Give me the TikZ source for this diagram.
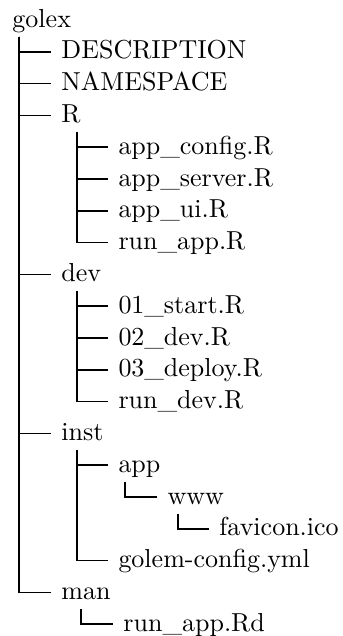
\documentclass[tikz,border=0pt]{standalone}
\usepackage{tikz}
\begin{document}
\begin{tikzpicture}[x=0.4pt,y=-0.4pt]
\tikzstyle{every node}+=[inner sep=0pt,anchor=base west,font=\fontsize{10.4}{12}\selectfont]
\tikzstyle{branch}=[black,line width=0.7pt]
\useasboundingbox (0,0) rectangle (342,636);
\node (golex) at (12,27) {golex};
\node (desc) at (61,58.8) {DESCRIPTION};
\node (ns) at (61,90.6) {NAMESPACE};
\node (R) at (61,122.4) {R};
\node (cfg) at (118,154.2) {app\_config.R};
\node (srv) at (118,186) {app\_server.R};
\node (ui) at (118,217.8) {app\_ui.R};
\node (runR) at (118,249.6) {run\_app.R};
\node (dev) at (61,281.4) {dev};
\node (start) at (118,313.2) {01\_start.R};
\node (devR) at (118,345) {02\_dev.R};
\node (deploy) at (118,376.8) {03\_deploy.R};
\node (rundev) at (118,408.6) {run\_dev.R};
\node (inst) at (61,440.4) {inst};
\node (app) at (118,472.2) {app};
\node (www) at (167,504) {www};
\node (fav) at (219,535.8) {favicon.ico};
\node (golem) at (118,567.6) {golem-config.yml};
\node (man) at (61,599.4) {man};
\node (rd) at (123,631.2) {run\_app.Rd};
\coordinate (golexv) at ([xshift=2.8pt,yshift=-3.8pt]golex.base west);
\coordinate (Rv) at ([xshift=6.4pt,yshift=-3.8pt]R.base west);
\coordinate (devv) at ([xshift=6.4pt,yshift=-3.8pt]dev.base west);
\coordinate (instv) at ([xshift=6.4pt,yshift=-3.8pt]inst.base west);
\coordinate (appv) at ([xshift=2.8pt,yshift=-3.8pt]app.base west);
\coordinate (wwwv) at ([xshift=4.4pt,yshift=-3.8pt]www.base west);
\coordinate (manv) at ([xshift=8pt,yshift=-3.8pt]man.base west);
\draw [branch] (golexv) |- ([xshift=-3.8pt,yshift=2.8pt]man.base west);
\draw [branch] (golexv) |- ([xshift=-3.8pt,yshift=2.8pt]desc.base west);
\draw [branch] (golexv) |- ([xshift=-3.8pt,yshift=2.8pt]ns.base west);
\draw [branch] (golexv) |- ([xshift=-3.8pt,yshift=2.8pt]R.base west);
\draw [branch] (golexv) |- ([xshift=-3.8pt,yshift=2.8pt]dev.base west);
\draw [branch] (golexv) |- ([xshift=-3.8pt,yshift=2.8pt]inst.base west);
\draw [branch] (Rv) |- ([xshift=-3.8pt,yshift=2.8pt]runR.base west);
\draw [branch] (Rv) |- ([xshift=-3.8pt,yshift=2.8pt]cfg.base west);
\draw [branch] (Rv) |- ([xshift=-3.8pt,yshift=2.8pt]srv.base west);
\draw [branch] (Rv) |- ([xshift=-3.8pt,yshift=2.8pt]ui.base west);
\draw [branch] (devv) |- ([xshift=-3.8pt,yshift=2.8pt]rundev.base west);
\draw [branch] (devv) |- ([xshift=-3.8pt,yshift=2.8pt]start.base west);
\draw [branch] (devv) |- ([xshift=-3.8pt,yshift=2.8pt]devR.base west);
\draw [branch] (devv) |- ([xshift=-3.8pt,yshift=2.8pt]deploy.base west);
\draw [branch] (instv) |- ([xshift=-3.8pt,yshift=2.8pt]golem.base west);
\draw [branch] (instv) |- ([xshift=-3.8pt,yshift=2.8pt]app.base west);
\draw [branch] (appv) |- ([xshift=-3.8pt,yshift=2.8pt]www.base west);
\draw [branch] (wwwv) |- ([xshift=-3.8pt,yshift=2.8pt]fav.base west);
\draw [branch] (manv) |- ([xshift=-3.8pt,yshift=2.8pt]rd.base west);
\end{tikzpicture}
\end{document}
